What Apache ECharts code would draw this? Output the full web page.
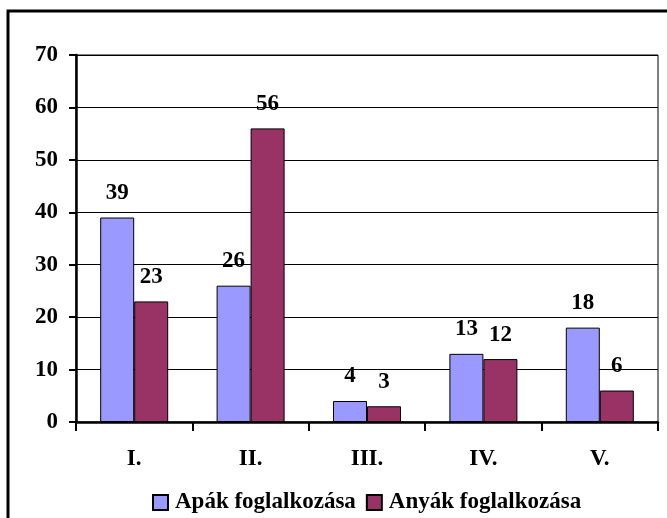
<!DOCTYPE html>
<html lang="hu">
<head>
<meta charset="UTF-8">
<title>Foglalkozás</title>
<script src="https://cdn.jsdelivr.net/npm/echarts@6/dist/echarts.min.js"></script>
<style>
  html, body { margin: 0; padding: 0; background: #fff; }
  #chart { width: 667px; height: 518px; }
</style>
</head>
<body>
<div id="chart"></div>
<script>
  var categories = ['I.', 'II.', 'III.', 'IV.', 'V.'];
  var seriesNames = ['Apák foglalkozása', 'Anyák foglalkozása'];
  var apak = [39, 26, 4, 13, 18];
  var anyak = [23, 56, 3, 12, 6];
  var yTicks = { min: 0, max: 70, interval: 10 };

  var font = 'Liberation Serif, Times New Roman, serif';
  var chart = echarts.init(document.getElementById('chart'));

  function bar(name, data, color) {
    return {
      name: name,
      type: 'bar',
      data: data,
      barWidth: 34,
      barGap: '0%',
      itemStyle: { color: color, borderColor: '#000', borderWidth: 1 },
      label: {
        show: true,
        position: 'top',
        distance: 13,
        color: '#000',
        fontFamily: font,
        fontWeight: 'bold',
        fontSize: 23
      }
    };
  }

  chart.setOption({
    animation: false,
    backgroundColor: '#fff',
    graphic: [{
      type: 'rect',
      shape: { x: 8, y: 11, width: 720, height: 620 },
      style: { fill: 'none', stroke: '#000', lineWidth: 3 },
      silent: true
    }],
    grid: {
      left: 76, right: 9, top: 55, bottom: 96,
      show: true, borderColor: '#000', borderWidth: 1
    },
    legend: {
      top: 486,
      left: 147,
      itemWidth: 15,
      itemHeight: 15,
      itemGap: 10,
      icon: 'rect',
      textStyle: { color: '#000', fontFamily: font, fontWeight: 'bold', fontSize: 23, padding: [0, 0, 0, 2] },
      data: seriesNames
    },
    xAxis: {
      type: 'category',
      data: categories,
      axisLine: { lineStyle: { color: '#000', width: 2.5 } },
      axisTick: { show: true, length: 9, lineStyle: { color: '#000', width: 2 } },
      axisLabel: { color: '#000', fontFamily: font, fontWeight: 'bold', fontSize: 23, margin: 26 }
    },
    yAxis: {
      type: 'value',
      min: yTicks.min,
      max: yTicks.max,
      interval: yTicks.interval,
      axisLine: { show: true, lineStyle: { color: '#000', width: 2.5 } },
      axisTick: { show: true, length: 7, lineStyle: { color: '#000', width: 2 } },
      splitLine: { show: true, lineStyle: { color: '#000', width: 1 } },
      axisLabel: { color: '#000', fontFamily: font, fontWeight: 'bold', fontSize: 23, margin: 18 }
    },
    series: [
      bar(seriesNames[0], apak, '#9999FF'),
      bar(seriesNames[1], anyak, '#993366')
    ]
  });
</script>
</body>
</html>
